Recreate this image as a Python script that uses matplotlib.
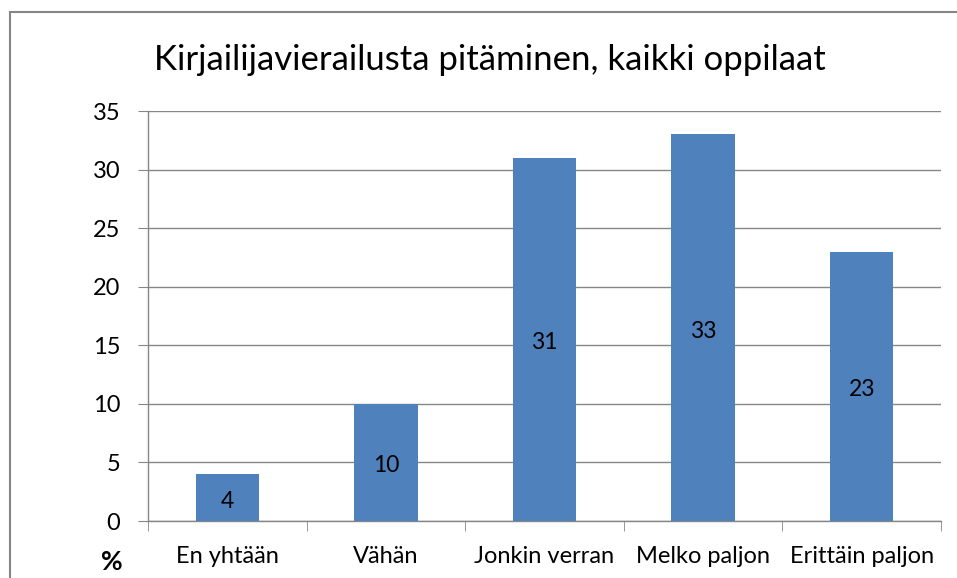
import matplotlib
matplotlib.use('Agg')
import matplotlib.pyplot as plt
from matplotlib.patches import Rectangle

categories = ['En yhtään', 'Vähän', 'Jonkin verran', 'Melko paljon', 'Erittäin paljon']
values = [4, 10, 31, 33, 23]
yticks = [0, 5, 10, 15, 20, 25, 30, 35]

plt.rcParams['font.family'] = ['Lato', 'DejaVu Sans']

fig = plt.figure(figsize=(9.57, 5.78), dpi=100)
ax = fig.add_axes([148/957, 1 - 521/578, (941 - 148)/957, (521 - 111)/578])

x = list(range(len(categories)))
bars = ax.bar(x, values, width=0.4, color='#4F81BD', zorder=3)
for b, v in zip(bars, values):
    ax.annotate(str(v), (b.get_x() + b.get_width()/2, v/2), xytext=(0, -2.5),
                textcoords='offset points', ha='center', va='center',
                fontsize=16.5, color='black', zorder=4)

ax.set_xlim(-0.5, len(categories) - 0.5)
ax.set_ylim(0, 35)
ax.set_yticks(yticks)
ax.set_yticklabels([str(t) for t in yticks], fontsize=17)
ax.yaxis.grid(True, color='#868686', linewidth=1, zorder=0)
ax.tick_params(axis='y', length=7, color='#868686', pad=13, direction='out')

ax.set_xticks(x)
ax.set_xticklabels(categories, fontsize=17)
ax.set_xticks([i - 0.5 for i in range(len(categories) + 1)], minor=True)
ax.tick_params(axis='x', which='major', length=0, pad=18)
ax.tick_params(axis='x', which='minor', length=7, color='#868686', direction='out')

for s in ['top', 'right']:
    ax.spines[s].set_visible(False)
for s in ['left', 'bottom']:
    ax.spines[s].set_color('#868686')
    ax.spines[s].set_linewidth(1)

fig.text(490/957, 1 - 60/578, 'Kirjailijavierailusta pitäminen, kaikki oppilaat',
         ha='center', va='center', fontsize=25)
fig.text(112/957, 1 - 562/578, '%', ha='center', va='center', fontsize=19,
         fontweight='bold')

fig.patches.append(Rectangle((10/957, -0.1), 1.1, 1 - 12/578 + 0.1,
                             transform=fig.transFigure, fill=False,
                             edgecolor='#868686', linewidth=1.5))

fig.savefig('out.png', dpi=100)
